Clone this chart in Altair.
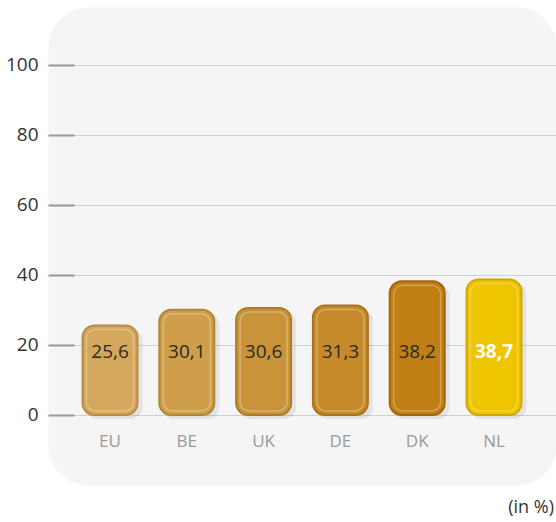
import altair as alt
import pandas as pd

countries = ["EU", "BE", "UK", "DE", "DK", "NL"]
values = [25.6, 30.1, 30.6, 31.3, 38.2, 38.7]
fills = ["#d5a75c", "#cf9e4a", "#c99439", "#c68a2a", "#c07f14", "#efc400"]
strokes = ["#b98c44", "#b38636", "#ad7c28", "#a8731c", "#9f680c", "#d0a800"]
highlight = [False, False, False, False, False, True]
y_ticks = [0, 20, 40, 60, 80, 100]

df = pd.DataFrame({
    "country": countries,
    "value": values,
    "fill": fills,
    "stroke": strokes,
    "hl": highlight,
    "label": [f"{v:.1f}".replace(".", ",") for v in values],
})

FONT = "Open Sans"

xscale = alt.Scale(paddingInner=0.284, paddingOuter=0.4495)
xaxis = alt.Axis(title=None, orient="bottom", domain=False, ticks=False,
                 labelAngle=0, labelFontSize=17, labelColor="#9a9a9a",
                 labelFont=FONT, labelPadding=0,
                 labelBaseline="top", offset=-52, grid=False)
yscale = alt.Scale(domain=[-20, 116.57], nice=False, zero=False)
yaxis = alt.Axis(title=None, values=y_ticks, domain=False, tickSize=26,
                 tickColor="#999999", tickWidth=2, offset=-26,
                 labelPadding=10, labelFontSize=19, labelColor="#333333",
                 labelFont=FONT,
                 grid=True, gridColor="#cfcfcf", gridWidth=1)

xs = alt.X("country:N", sort=countries, scale=xscale, axis=xaxis)
ys = alt.Y("value:Q", scale=yscale, axis=yaxis)
ylab = alt.YDatum(18, scale=yscale, axis=yaxis)

shadow = alt.Chart(df).mark_bar(cornerRadius=12, size=57, fill="#000000",
                                fillOpacity=0.07, xOffset=4, yOffset=3, y2Offset=4).encode(
    x=xs, y=ys, y2=alt.datum(0))

bars = alt.Chart(df).mark_bar(cornerRadius=12, strokeWidth=2, size=55).encode(
    x=xs,
    y=ys,
    y2=alt.datum(0),
    fill=alt.Fill("fill:N", scale=None),
    stroke=alt.Stroke("stroke:N", scale=None),
)

inner = alt.Chart(df).mark_bar(cornerRadius=9, size=47, fillOpacity=0, stroke="#ffffff",
                               strokeOpacity=0.28, strokeWidth=1.5,
                               yOffset=4, y2Offset=-4).encode(
    x=xs, y=ys, y2=alt.datum(0))

labels = alt.Chart(df).transform_filter("!datum.hl").mark_text(
    fontSize=19, font=FONT, baseline="middle", color="#2a2a2a").encode(
    x=xs, y=ylab, text="label:N")
labels_hl = alt.Chart(df).transform_filter("datum.hl").mark_text(
    fontSize=19, font=FONT, baseline="middle", color="#ffffff", fontWeight="bold").encode(
    x=xs, y=ylab, text="label:N")

chart = alt.layer(shadow, bars, inner, labels, labels_hl).properties(
    width=508, height=478,
    autosize="none",
    padding={"left": 48, "top": 7, "right": 0, "bottom": 37},
    title=alt.TitleParams("(in %)", orient="bottom", anchor="end", fontSize=18,
                          font=FONT, fontWeight="normal", color="#333333",
                          offset=14, dx=-2),
).configure(
    background="white",
    view=alt.ViewConfig(fill="#f5f5f5", stroke="transparent", cornerRadius=40),
)

chart.save("out.html", embed_options={"renderer": "svg", "actions": False})
